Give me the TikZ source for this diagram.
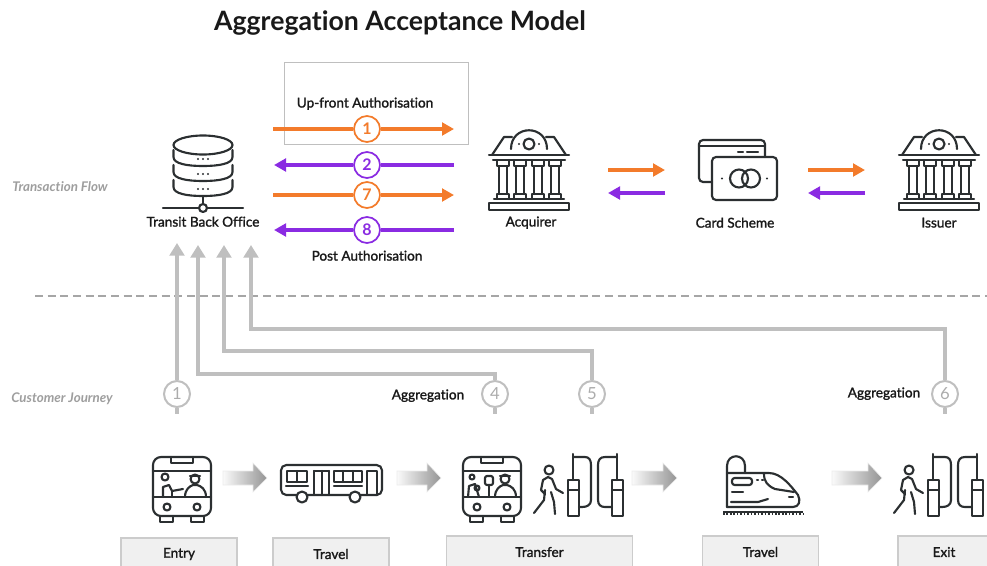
\documentclass[tikz,border=0pt]{standalone}
\usepackage{fontspec}
\setmainfont[Ligatures=NoCommon]{Lato}
\newfontfamily\labelfont[FakeBold=1.6,Ligatures=NoCommon]{Lato}
\usetikzlibrary{arrows.meta}

\definecolor{floworange}{HTML}{F37B2B}
\definecolor{flowpurple}{HTML}{8A2BE2}
\definecolor{journeygray}{HTML}{BFBFBF}
\definecolor{iconink}{HTML}{2B2F31}

\tikzset{
    icon/.style={draw=iconink, line width=1.6pt, line join=round, line cap=round},
    flowlabel/.style={font=\labelfont\fontsize{10.2}{12}\selectfont, text=black!90, inner sep=0pt, yshift=-0.5pt},
    sidelabel/.style={font=\itshape\bfseries\fontsize{10}{12}\selectfont, text=black!38, inner sep=0pt},
    orangeline/.style={draw=floworange, line width=3pt},
    purpleline/.style={draw=flowpurple, line width=3pt},
    flowtip/.style={-{Triangle[length=9pt,width=9.5pt]}},
    flowcircle/.style={circle, draw=#1, text=#1, fill=white, line width=1.3pt, minimum size=19.5pt,
        inner sep=0pt, font=\bfseries\fontsize{12}{12}\selectfont},
    journeycircle/.style={circle, draw=journeygray, text=journeygray!90!black, fill=white, line width=1.5pt,
        minimum size=19.5pt, inner sep=0pt, font=\fontsize{12.5}{12}\selectfont},
    journeyline/.style={draw=journeygray, line width=3.4pt},
    journeytip/.style={-{Triangle[length=9.5pt,width=11pt]}},
    stagebox/.style={draw=black!20, fill=black!6, line width=0.8pt, minimum height=24pt, inner sep=0pt,
        font=\labelfont\fontsize{10.2}{12}\selectfont, text=black!90},
    movearrow/.style={draw=black!8, line width=0.4pt, left color=black!2, right color=black!42},
    pics/server/.style={code={
        \draw[icon] (0,0) ellipse [x radius=29.5, y radius=9.5];
        \foreach \t in {0,15,30}{
            \draw[icon] (-29.5,5+\t) -- (-29.5,12+\t) .. controls (-29.5,19+\t) and (-15,21+\t) .. (0,21+\t)
                .. controls (15,21+\t) and (29.5,19+\t) .. (29.5,12+\t) -- (29.5,5+\t);
            \foreach \d in {-5,0,5}{
                \fill[iconink] (\d,14+\t) circle [radius=1.1];
            };
        };
        \draw[icon] (0,51) -- (0,59);
        \draw[icon] (-40,63) -- (40,63);
        \draw[icon, fill=white] (0,63) circle [radius=4];
    }},
    pics/bank/.style={code={
        \draw[icon] (-40,33) rectangle (40,40);
        \draw[icon] (-35,29) -- (35,29);
        \draw[icon] (-40,-15) -- (40,-15);
        \draw[icon] (-36,-10) -- (36,-10);
        \draw[icon] (-37,-15) -- (-25,-33) -- (-17,-33);
        \draw[icon] (37,-15) -- (25,-33) -- (17,-33);
        \draw[icon] (-18,-21) .. controls (-18,-46) and (18,-46) .. (18,-21);
        \draw[icon] (0,-26) circle [radius=5.5];
        \fill[iconink] (-10,-26) circle [radius=1.1];
        \fill[iconink] (10,-26) circle [radius=1.1];
        \foreach \c in {-26,-8.7,8.7,26}{
            \draw[icon] (\c-6,-10) -- (\c-6,-4) -- (\c+6,-4) -- (\c+6,-10);
            \draw[icon] (\c-4,-4) -- (\c-4,24);
            \draw[icon] (\c+4,-4) -- (\c+4,24);
            \draw[icon] (\c-6,29) -- (\c-6,24) -- (\c+6,24) -- (\c+6,29);
        };
    }},
    pics/cards/.style={code={
        \draw[icon, rounded corners=3pt] (13,0) -- (13,-17) -- (-53,-17) -- (-53,25) -- (-40,25);
        \draw[icon] (-53,-11) -- (13,-11);
        \draw[icon] (-14,-5) -- (-9,-5);
        \draw[icon] (-5,-5) -- (6,-5);
        \draw[icon, rounded corners=3pt] (-40,0) rectangle (25,43);
        \draw[icon] (-13,21.5) circle [radius=9];
        \draw[icon] (-1,21.5) circle [radius=9];
        \fill[iconink] (-30,21.5) circle [radius=1.1];
        \fill[iconink] (15,21.5) circle [radius=1.1];
    }},
    pics/busfront/.style={code={
        \draw[icon, rounded corners=6pt] (-29,0) rectangle (29,59);
        \draw[icon] (-11,0) -- (-11,6) -- (11,6) -- (11,0);
        \draw[icon] (-29,14) -- (29,14);
        \draw[icon] (-29,40) -- (29,40);
        \draw[icon] (-15,50) circle [radius=3.5];
        \draw[icon] (15,50) circle [radius=3.5];
        \draw[icon] (-22,59) -- (-22,65) -- (-9,65) -- (-9,59);
        \draw[icon] (9,59) -- (9,65) -- (22,65) -- (22,59);
        \draw[icon] (13,22) circle [radius=4.5];
        \draw[icon] (8,19) -- (18,19);
        \draw[icon] (3,40) .. controls (3,32) and (8,29) .. (11,28) -- (15,28) .. controls (19,29) and (24,32) .. (24,40);
    }},
    pics/busentry/.style={code={
        \pic at (0,0) {busfront};
        \draw[icon] (-17,20) circle [radius=3.5];
        \draw[icon] (-19,40) -- (-19,30) -- (-13,28) -- (-10,34) -- (1,32);
        \draw[icon] (-10,34) -- (-10,40);
    }},
    pics/bustransfer/.style={code={
        \pic at (0,0) {busfront};
        \draw[icon] (-20,20) circle [radius=2.5];
        \draw[icon] (-24,40) -- (-23,29) -- (-17,27) -- (-13,40);
        \draw[icon] (-15,31) circle [radius=2.5];
        \draw[icon, rounded corners=1.5pt] (-7,19) rectangle (1,28);
        \draw[icon] (-3,28) -- (-3,40);
    }},
    pics/busside/.style={code={
        \draw[icon, rounded corners=4pt] (0,0) rectangle (101,30);
        \draw[icon] (6,6) rectangle (26,17);
        \draw[icon] (16,6) -- (16,17);
        \draw[icon] (5,21) -- (27,21);
        \draw[icon] (33,6) -- (33,30);
        \draw[icon] (41,6) -- (41,30);
        \draw[icon] (48,6) -- (48,30);
        \draw[icon] (33,6) -- (48,6);
        \draw[icon] (53,6) rectangle (81,17);
        \draw[icon] (62,6) -- (62,17);
        \draw[icon] (72,6) -- (72,17);
        \draw[icon] (53,21) -- (81,21);
        \draw[icon] (86,30) -- (86,6) -- (96,6) -- (96,30);
        \draw[icon, fill=white] (21,32) circle [radius=5.5];
        \draw[icon, fill=white] (74,32) circle [radius=5.5];
    }},
    pics/gate/.style={code={
        \draw[icon] (0,0) circle [radius=4.5];
        \draw[icon] (-1,7) -- (-6,10) -- (-8,20) -- (-4,24);
        \draw[icon] (-1,7) -- (3,9) -- (7,19) -- (14,23);
        \draw[icon] (-4,20) -- (-5,30) -- (-15,43);
        \draw[icon] (2,22) -- (5,32) -- (6,44);
        \draw[icon] (19,10) rectangle (30,46);
        \draw[icon] (19,20) -- (30,20);
        \draw[icon] (24,-16) -- (24,10);
        \draw[icon] (24,-13) -- (36,-13) .. controls (40,-13) and (42,-10) .. (42,-5) -- (42,30)
            .. controls (42,35) and (38,37) .. (33,37) -- (30,37);
        \draw[icon] (63,10) rectangle (74,46);
        \draw[icon] (63,20) -- (74,20);
        \draw[icon] (68,-16) -- (68,10);
        \draw[icon] (68,-13) -- (56,-13) .. controls (51,-13) and (49,-10) .. (49,-5) -- (49,30)
            .. controls (49,35) and (52,37) .. (56,37) -- (63,37);
    }},
    pics/train/.style={code={
        \draw[iconink, line width=1.6pt] (0,56) -- (80,56);
        \draw[iconink, line width=1.6pt, dash pattern=on 1.2pt off 1.4pt] (0,58) -- (80,58);
        \draw[icon] (4,51) -- (4,10) .. controls (4,-3) and (22,-3) .. (22,10) -- (22,17);
        \draw[icon] (4,17) -- (46,17) .. controls (58,17) and (68,30) .. (75,39)
            .. controls (78,45) and (76,51) .. (70,51) -- (4,51);
        \draw[icon] (41,18) .. controls (41,26) and (45,30) .. (52,33) -- (71,36);
        \draw[icon, rounded corners=2pt] (9,22) rectangle (29,29);
        \draw[icon] (34,24) -- (35,24);
        \draw[icon] (39,24) -- (40,24);
        \draw[icon] (9,36) -- (20,36);
        \draw[icon] (8,46) -- (35,46) -- (45,43);
        \draw[icon] (66,41) -- (70,41);
    }},
}

\begin{document}
\begin{tikzpicture}[x=0.75pt, y=-0.75pt]
    \useasboundingbox (0,0) rectangle (987,565);

    \node[inner sep=0pt, font=\bfseries\fontsize{20}{24}\selectfont, text=black!90] (title) at (400,23) {Aggregation Acceptance Model};
    \node[sidelabel] (flowside) at (60,187) {Transaction Flow};
    \node[sidelabel] (journeyside) at (62,399) {Customer Journey};

    \draw[draw=black!25, line width=0.7pt] (284,62) rectangle (468,144);
    \node[flowlabel] (upfront) at (365,103) {Up-front Authorisation};
    \node[flowlabel] (postauth) at (367,255) {Post Authorisation};

    \foreach \n/\y/\xa/\xb/\c in {1/129/273/454/orange, 2/165/454/274/purple, 7/195/273/454/orange, 8/230/454/274/purple}{
        \node[flowcircle=flow\c] (f\n) at (367,\y) {\n};
        \coordinate (ft\n) at (\xa,\y);
        \coordinate (fh\n) at (\xb,\y);
        \draw[\c line] (ft\n) -- (f\n);
        \draw[\c line, flowtip] (f\n) -- (fh\n);
    };

    \foreach \n/\xa/\xb in {a/608/665, b/808/865}{
        \coordinate (ot\n) at (\xa,170);
        \coordinate (oh\n) at (\xb,170);
        \coordinate (pt\n) at (\xb,193);
        \coordinate (ph\n) at (\xa,193);
        \draw[orangeline, flowtip] (ot\n) -- (oh\n);
        \draw[purpleline, flowtip] (pt\n) -- (ph\n);
    };

    \pic (backoffice) at (203,145) {server};
    \pic (acquirer) at (529,170) {bank};
    \pic (scheme) at (752,157) {cards};
    \pic (issuer) at (939,170) {bank};
    \node[flowlabel] (backofficetxt) at (203,221) {Transit Back Office};
    \node[flowlabel] (acquirertxt) at (531,222) {Acquirer};
    \node[flowlabel] (schemetxt) at (735,222) {Card Scheme};
    \node[flowlabel] (issuertxt) at (939,222) {Issuer};

    \draw[draw=black!35, line width=0.9pt, dash pattern=on 6pt off 3.5pt] (35,296) -- (987,296);

    \foreach \n/\xa/\xb/\y in {4/495/198/374, 5/592/224/351, 6/945/251/329}{
        \node[journeycircle] (j\n) at (\xa,394) {\n};
        \coordinate (s\n) at (\xa,414);
        \coordinate (k\n) at (\xb,\y);
        \coordinate (t\n) at (\xb,245);
        \draw[journeyline, journeytip] (j\n) |- (k\n) -- (t\n);
        \draw[journeyline] (j\n) -- (s\n);
    };
    \node[journeycircle] (j1) at (177,394) {1};
    \coordinate (s1) at (177,414);
    \coordinate (t1) at (177,243);
    \draw[journeyline, journeytip] (j1) -- (t1);
    \draw[journeyline] (j1) -- (s1);

    \node[flowlabel] (aggone) at (428,395) {Aggregation};
    \node[flowlabel] (aggtwo) at (884,393) {Aggregation};

    \pic (entrybus) at (182,457) {busentry};
    \pic (travelbus) at (281,465) {busside};
    \pic (transferbus) at (492,457) {bustransfer};
    \pic (transfergate) at (549,470) {gate};
    \pic (traveltrain) at (723,456) {train};
    \pic (exitgate) at (909,470) {gate};

    \foreach \x/\w in {223/44, 397/44, 632/45, 832/50}{
        \path[movearrow] (\x,471) -- (\x+\w-14,471) -- (\x+\w-14,463) -- (\x+\w,478)
            -- (\x+\w-14,492) -- (\x+\w-14,485) -- (\x,485) -- cycle;
    };

    \node[stagebox, minimum width=87pt] (entry) at (179,554) {Entry};
    \node[stagebox, minimum width=87pt] (travelone) at (331,554) {Travel};
    \node[stagebox, minimum width=140pt] (transfer) at (539.5,552) {Transfer};
    \node[stagebox, minimum width=87.5pt] (traveltwo) at (760.5,552) {Travel};
    \node[stagebox, minimum width=69pt] (exit) at (944,552) {Exit};
\end{tikzpicture}
\end{document}
